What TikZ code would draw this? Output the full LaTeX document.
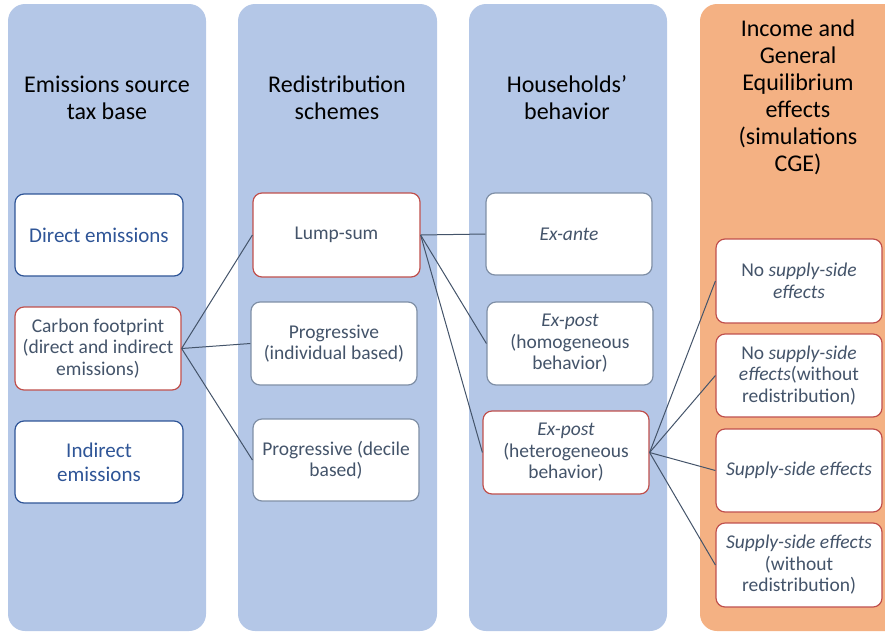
\documentclass[tikz,border=0pt]{standalone}
\usepackage{fontspec}
\setmainfont{Carlito}
\definecolor{colblue}{HTML}{B4C7E7}
\definecolor{colorange}{HTML}{F4B183}
\definecolor{txtgray}{HTML}{44546A}
\definecolor{txtblue}{HTML}{2F5597}
\definecolor{bred}{HTML}{C0504D}
\definecolor{bgray}{HTML}{7F8FA6}
\tikzset{
  column/.style={rounded corners=17pt},
  header/.style={align=center, font=\fontsize{24}{27}\selectfont, text=black},
  box/.style={draw=bgray, fill=white, rounded corners=9pt, line width=1.2pt,
    minimum width=166pt, minimum height=83pt, align=center,
    font=\fontsize{19.5}{21.5}\selectfont, text=txtgray, inner sep=1pt},
  redbox/.style={box, draw=bred},
  bluebox/.style={box, draw=txtblue, text=txtblue, font=\fontsize{21}{24}\selectfont},
  link/.style={draw=txtgray, line width=1pt}
}
\begin{document}
\begin{tikzpicture}[x=1pt,y=-1pt]
\useasboundingbox (0,0) rectangle (885,632);
\clip (0,0) rectangle (885,632);
% columns
\fill[colblue, column] (8,4) rectangle (206,631);
\fill[colblue, column] (238,4) rectangle (437,631);
\fill[colblue, column] (469,4) rectangle (667,631);
\fill[colorange, column] (700,4) rectangle (910,631);
% headers
\node[header] (h1) at (107,97.5) {Emissions source\\tax base};
\node[header] (h2) at (337,97.5) {Redistribution\\schemes};
\node[header] (h3) at (567,97.5) {Households’\\behavior};
\node[header] (h4) at (798,97) {Income and\\General\\Equilibrium\\effects\\(simulations\\CGE)};
% column 1
\node[bluebox, minimum width=168pt, minimum height=82pt] (de) at (99,235) {Direct emissions};
\node[redbox] (cf) at (98,348.5) {Carbon footprint\\(direct and indirect\\emissions)};
\node[bluebox, minimum width=168pt, minimum height=82pt] (ie) at (99,462) {Indirect\\emissions};
% column 2
\node[redbox, minimum width=167pt, minimum height=84pt] (ls) at (336.5,235) {Lump-sum};
\node[box] (pi) at (334,343.5) {Progressive\\(individual based)};
\node[box, minimum height=82pt] (pd) at (336,460) {Progressive (decile\\based)};
% column 3
\node[box, minimum height=82pt] (ea) at (569,234) {\textit{Ex-ante}};
\node[box] (eh) at (570,343.5) {\textit{Ex-post}\\(homogeneous\\behavior)};
\node[redbox] (et) at (566,452.5) {\textit{Ex-post}\\(heterogeneous\\behavior)};
% column 4
\node[redbox, minimum height=84pt] (n1) at (799,281) {No \textit{supply-side}\\\textit{effects}};
\node[redbox] (n2) at (799,375.5) {No \textit{supply-side}\\\textit{effects}(without\\redistribution)};
\node[redbox] (s1) at (799,470.5) {\textit{Supply-side effects}};
\node[redbox, minimum height=84pt] (s2) at (799,565) {\textit{Supply-side effects}\\(without\\redistribution)};
% links
\draw[link] (cf.east) -- (ls.west);
\draw[link] (cf.east) -- (pi.west);
\draw[link] (cf.east) -- (pd.west);
\draw[link] (ls.east) -- (ea.west);
\draw[link] (ls.east) -- (eh.west);
\draw[link] (ls.east) -- (et.west);
\draw[link] (et.east) -- (n1.west);
\draw[link] (et.east) -- (n2.west);
\draw[link] (et.east) -- (s1.west);
\draw[link] (et.east) -- (s2.west);
\end{tikzpicture}
\end{document}
